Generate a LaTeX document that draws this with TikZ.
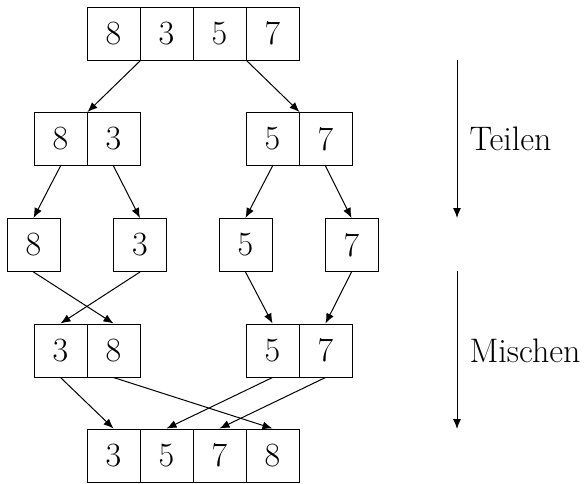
\documentclass[tikz,border=0pt]{standalone}
\usetikzlibrary{arrows.meta}
\begin{document}
\begin{tikzpicture}[x=0.5pt,y=-0.5pt,line width=0.5pt,
  cell/.style={draw,minimum width=26.5pt,minimum height=26.5pt,inner sep=0pt,
    font=\fontsize{17}{20}\selectfont},
  lbl/.style={anchor=west,inner sep=0pt,font=\fontsize{17}{20}\selectfont},
  arr/.style={-{Latex[length=5pt,width=4pt]}}]
\useasboundingbox (0,0) rectangle (584,483);
% row 1
\node[cell] (t1) at (113.5,33.5) {8};
\node[cell] (t2) at (166.5,33.5) {3};
\node[cell] (t3) at (219.5,33.5) {5};
\node[cell] (t4) at (272.5,33.5) {7};
% row 2
\node[cell] (a1) at (60.5,139) {8};
\node[cell] (a2) at (113.5,139) {3};
\node[cell] (b1) at (272.5,139) {5};
\node[cell] (b2) at (325.5,139) {7};
% row 3
\node[cell] (c1) at (33.5,245) {8};
\node[cell] (c2) at (140,245) {3};
\node[cell] (c3) at (245.5,245) {5};
\node[cell] (c4) at (351.5,245) {7};
% row 4
\node[cell] (d1) at (60.5,350.5) {3};
\node[cell] (d2) at (113.5,350.5) {8};
\node[cell] (e1) at (272.5,350.5) {5};
\node[cell] (e2) at (325.5,350.5) {7};
% row 5
\node[cell] (f1) at (113.5,455.5) {3};
\node[cell] (f2) at (166.5,455.5) {5};
\node[cell] (f3) at (219.5,455.5) {7};
\node[cell] (f4) at (272.5,455.5) {8};
% connectors
\draw[arr] (t1.south east) -- (a1.north east);
\draw[arr] (t3.south east) -- (b1.north east);
\draw[arr] (a1.south) -- (c1.north);
\draw[arr] (a2.south) -- (c2.north);
\draw[arr] (b1.south) -- (c3.north);
\draw[arr] (b2.south) -- (c4.north);
\draw[arr] (c1.south) -- (d2.north);
\draw[arr] (c2.south) -- (d1.north);
\draw[arr] (c3.south) -- (e1.north);
\draw[arr] (c4.south) -- (e2.north);
\draw[arr] (d1.south) -- (f1.north);
\draw[arr] (d2.south) -- (f4.north);
\draw[arr] (e1.south) -- (f2.north);
\draw[arr] (e2.south) -- (f3.north);
% side arrows
\coordinate (s1) at (457,60);
\coordinate (s2) at (457,218);
\coordinate (s3) at (457,271);
\coordinate (s4) at (457,429);
\draw[arr] (s1) -- (s2);
\draw[arr] (s3) -- (s4);
\node[lbl] (teilen) at (469,139) {Teilen};
\node[lbl] (mischen) at (469,351) {Mischen};
\end{tikzpicture}
\end{document}
